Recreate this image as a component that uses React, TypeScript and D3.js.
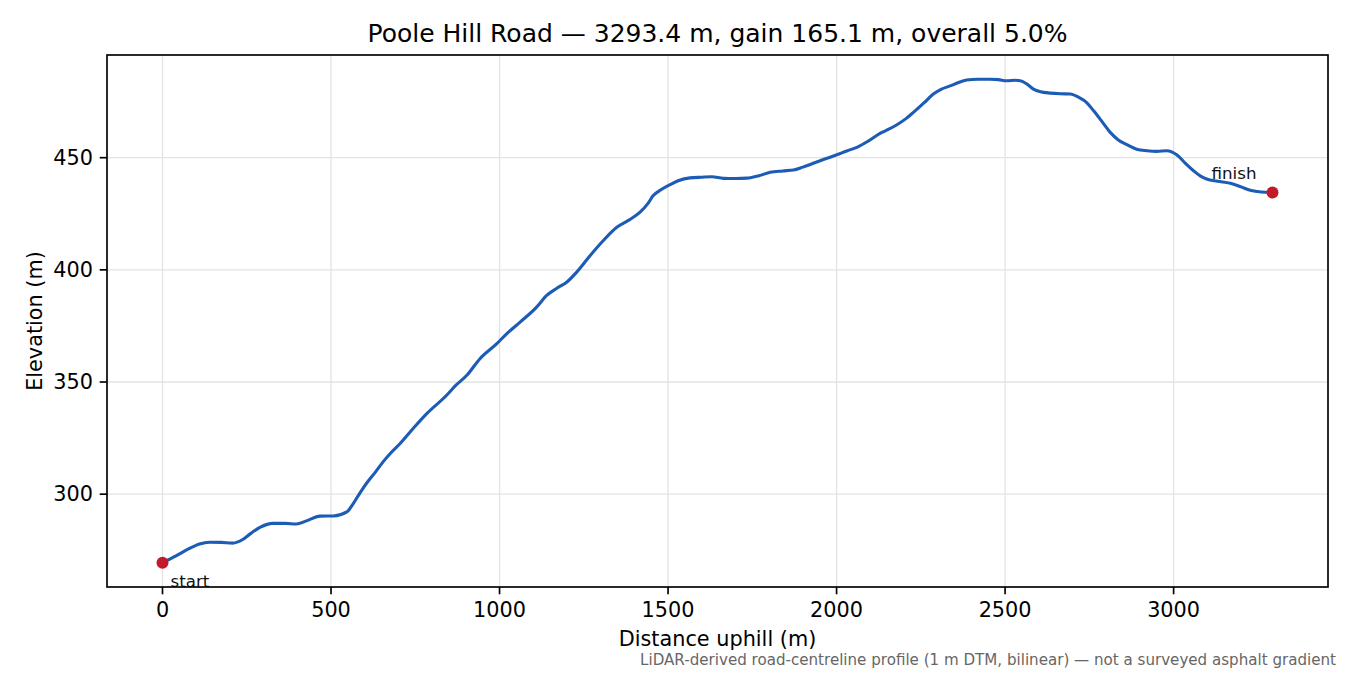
import React from "react";
import * as d3 from "d3";

const distances: number[] = [
  0, 40, 80, 110, 140, 175, 208, 238, 260, 289, 328, 365, 397, 427, 467, 507, 547, 566, 586, 606, 630,
  655, 680, 705, 745, 784, 843, 870, 903, 942, 992, 1021, 1061, 1110, 1140, 1170, 1199, 1229, 1269,
  1308, 1348, 1385, 1417, 1440, 1456, 1480, 1506, 1530, 1565, 1600, 1630, 1664, 1700, 1734, 1770,
  1803, 1840, 1872, 1900, 1931, 1965, 2001, 2030, 2060, 2095, 2129, 2155, 2179, 2205, 2228, 2260,
  2287, 2310, 2337, 2360, 2386, 2420, 2456, 2480, 2505, 2530, 2545, 2565, 2584, 2605, 2634, 2665,
  2693, 2720, 2742, 2762, 2782, 2812, 2835, 2861, 2890, 2921, 2950, 2980, 3009, 3035, 3059, 3080,
  3098, 3130, 3168, 3200, 3227, 3260, 3293.4,
];

const elevations: number[] = [
  269.4, 272.5, 275.8, 277.8, 278.6, 278.5, 278.2, 279.8, 282.3, 285.2, 287.0, 287.0, 286.7, 288.1,
  290.2, 290.3, 292.1, 295.8, 300.6, 305.0, 309.5, 314.5, 318.8, 322.6, 329.5, 335.9, 344.1, 348.5, 353.0,
  360.4, 367.1, 371.5, 376.7, 383.4, 388.6, 391.8, 394.5, 399.0, 406.4, 413.1, 419.0, 422.3, 425.7,
  429.5, 433.1, 435.8, 438.0, 439.7, 441.0, 441.3, 441.5, 440.8, 440.7, 440.9, 442.0, 443.5, 444.1,
  444.5, 445.8, 447.5, 449.4, 451.3, 453.0, 454.6, 457.5, 460.8, 462.7, 464.7, 467.3, 470.2, 474.5,
  478.4, 480.5, 482.0, 483.4, 484.6, 485.0, 485.0, 484.8, 484.3, 484.5, 484.3, 482.8, 480.6, 479.4,
  478.8, 478.5, 478.4, 476.8, 474.6, 471.0, 467.2, 461.3, 458.0, 455.8, 453.8, 453.1, 452.8, 453.1,
  451.3, 447.5, 444.2, 441.8, 440.5, 439.5, 438.6, 437.0, 435.5, 434.7, 434.5,
];

const xTicks: number[] = [0, 500, 1000, 1500, 2000, 2500, 3000];
const yTicks: number[] = [300, 350, 400, 450];

const titleText = "Poole Hill Road — 3293.4 m, gain 165.1 m, overall 5.0%";
const xLabel = "Distance uphill (m)";
const yLabel = "Elevation (m)";
const footnote =
  "LiDAR-derived road-centreline profile (1 m DTM, bilinear) — not a surveyed asphalt gradient";
const startLabel = "start";
const finishLabel = "finish";

const W = 1350;
const H = 675;
const M = { left: 107, right: 1328, top: 55, bottom: 587 };
const FONT = "'DejaVu Sans', sans-serif";

export default function App() {
  const xMin = d3.min(distances)!;
  const xMax = d3.max(distances)!;
  const yMin = d3.min(elevations)!;
  const yMax = d3.max(elevations)!;
  const xPad = (xMax - xMin) * 0.05;
  const yPad = (yMax - yMin) * 0.05;

  const x = d3.scaleLinear().domain([xMin - xPad, xMax + xPad]).range([M.left, M.right]);
  const y = d3.scaleLinear().domain([yMin - yPad, yMax + yPad]).range([M.bottom, M.top]);

  const pts = distances.map((d, i) => [d, elevations[i]] as [number, number]);
  const line = d3
    .line<[number, number]>()
    .x((p) => x(p[0]))
    .y((p) => y(p[1]))
    .curve(d3.curveMonotoneX);

  const first = pts[0];
  const last = pts[pts.length - 1];

  return (
    <svg
      width={W}
      height={H}
      viewBox={`0 0 ${W} ${H}`}
      style={{ position: "absolute", left: 0, top: 0, background: "#fff" }}
      fontFamily={FONT}
    >
      <rect x={0} y={0} width={W} height={H} fill="#fff" />
      {/* grid */}
      <g stroke="#e3e3e3" strokeWidth={1.3}>
        {xTicks.map((t) => (
          <line key={"gx" + t} x1={x(t)} x2={x(t)} y1={M.top} y2={M.bottom} />
        ))}
        {yTicks.map((t) => (
          <line key={"gy" + t} x1={M.left} x2={M.right} y1={y(t)} y2={y(t)} />
        ))}
      </g>
      {/* line */}
      <path d={line(pts) || ""} fill="none" stroke="#1c5cb4" strokeWidth={3.1} strokeLinejoin="round" />
      {/* markers */}
      <circle cx={x(first[0])} cy={y(first[1])} r={6} fill="#c21a2a" />
      <circle cx={x(last[0])} cy={y(last[1])} r={6} fill="#c21a2a" />
      <text x={x(first[0]) + 8} y={y(first[1]) + 24} fontSize={16.7} fill="#111">
        {startLabel}
      </text>
      <text x={x(last[0]) - 16} y={y(last[1]) - 13} fontSize={16.7} fill="#111" textAnchor="end">
        {finishLabel}
      </text>
      {/* spines */}
      <rect
        x={M.left}
        y={M.top}
        width={M.right - M.left}
        height={M.bottom - M.top}
        fill="none"
        stroke="#000"
        strokeWidth={1.67}
      />
      {/* x ticks */}
      <g>
        {xTicks.map((t) => (
          <g key={"xt" + t}>
            <line x1={x(t)} x2={x(t)} y1={M.bottom} y2={M.bottom + 7.3} stroke="#000" strokeWidth={1.67} />
            <text x={x(t)} y={M.bottom + 30} fontSize={20.8} textAnchor="middle" fill="#000">
              {t}
            </text>
          </g>
        ))}
      </g>
      {/* y ticks */}
      <g>
        {yTicks.map((t) => (
          <g key={"yt" + t}>
            <line x1={M.left - 7.3} x2={M.left} y1={y(t)} y2={y(t)} stroke="#000" strokeWidth={1.67} />
            <text
              x={M.left - 14}
              y={y(t)}
              fontSize={20.8}
              textAnchor="end"
              dominantBaseline="central"
              fill="#000"
            >
              {t}
            </text>
          </g>
        ))}
      </g>
      {/* labels */}
      <text x={(M.left + M.right) / 2} y={42} fontSize={25} textAnchor="middle" fill="#000">
        {titleText}
      </text>
      <text x={(M.left + M.right) / 2} y={646} fontSize={20.8} textAnchor="middle" fill="#000">
        {xLabel}
      </text>
      <text
        transform={`translate(42, ${(M.top + M.bottom) / 2}) rotate(-90)`}
        fontSize={20.8}
        textAnchor="middle"
        fill="#000"
      >
        {yLabel}
      </text>
      <text x={1336} y={665} fontSize={15.1} textAnchor="end" fill="#666">
        {footnote}
      </text>
    </svg>
  );
}
